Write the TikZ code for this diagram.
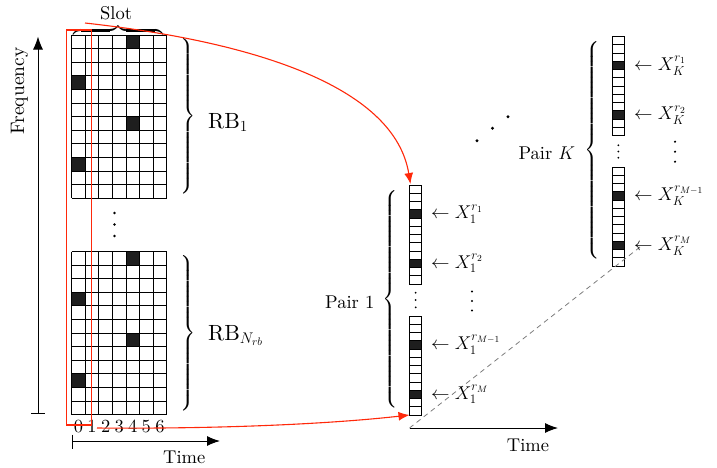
\documentclass[tikz,border=0pt]{standalone}
\usepackage{fix-cm}
\usepackage{fontspec}
\setmainfont{lmroman10-regular.otf}[ItalicFont=lmroman10-italic.otf,BoldFont=lmroman10-bold.otf]
\usepackage{amsmath}
\usetikzlibrary{arrows.meta}
\definecolor{redline}{RGB}{255,40,10}
\definecolor{cellfill}{RGB}{30,30,30}
\definecolor{dashgray}{RGB}{125,125,125}
\newcommand{\rbgrid}[2]{%
  \foreach \r/\c in {0/4,3/0,6/4,9/0}
    \fill[blackcell] ({#1+\c*13.57},{#2+\r*13.6}) rectangle ++(13.57,13.6);
  \foreach \i in {0,...,7} \draw[gridline] ({#1+\i*13.57},#2) -- ++(0,163.2);
  \foreach \j in {0,...,12} \draw[gridline] (#1,{#2+\j*13.6}) -- ++(95,0);
}
\newcommand{\paircolumn}[2]{%
  \foreach \r in {3,9} \fill[blackcell] (#1,{#2+\r*8.25}) rectangle ++(11.8,8.25);
  \foreach \j in {1,...,11} \draw[cellline] (#1,{#2+\j*8.25}) -- ++(11.8,0);
  \draw[gridline] (#1,#2) rectangle ++(11.8,99);
}
\newcommand{\dotcolumn}[4]{% x, y centre, spacing, radius
  \foreach \k in {-1,0,1} \fill ({#1},{#2+\k*#3}) circle (#4);
}
\begin{document}
\begin{tikzpicture}[x=1pt,y=-1pt,
  font=\fontsize{18.5}{22}\selectfont,
  gridline/.style={line width=0.85pt},
  cellline/.style={line width=0.65pt},
  blackcell/.style={fill=cellfill},
  axis/.style={line width=1pt,-{Latex[length=13pt,width=10pt]}},
  redarrow/.style={draw=redline,line width=1.1pt,-{Latex[length=11pt,width=9pt]}},
  lbl/.style={inner sep=0pt},
  bigtext/.style={inner sep=0pt,font=\fontsize{22}{26}\selectfont}
]
\useasboundingbox (0,0) rectangle (717,467);

% resource grids
\rbgrid{71.7}{35}
\rbgrid{71.7}{251.5}
\dotcolumn{114.5}{224.5}{11.5}{1.3}

% pair columns
\paircolumn{409.8}{185}
\paircolumn{409.8}{316}
\paircolumn{612.5}{36.5}
\paircolumn{612.5}{167}
\dotcolumn{415.7}{300}{7.3}{1.0}
\dotcolumn{618.4}{151.5}{6.2}{1.0}
\dotcolumn{472}{301}{9.5}{1.2}
\dotcolumn{675}{151.7}{10}{1.2}

% diagonal dots
\fill (477,140.7) circle (1.6);
\fill (492.5,128.3) circle (1.6);
\fill (508,116.7) circle (1.6);

% axes
\coordinate (fbot) at (38,413);
\coordinate (ftop) at (38,36.5);
\draw[axis] (fbot) -- (ftop);
\draw[line width=1pt] (31,413) -- (45,413);
\coordinate (t1a) at (72,441);
\coordinate (t1b) at (220,441);
\draw[axis] (t1a) -- (t1b);
\draw[line width=1pt] (72,434.5) -- (72,448.5);
\coordinate (t2a) at (409.5,428);
\coordinate (t2b) at (558,428);
\draw[axis] (t2a) -- (t2b);
\coordinate (dashend) at (640,247);
\draw[dashgray,line width=0.8pt,dash pattern=on 5pt off 4pt] (t2a) -- (dashend);

% braces
\node[lbl] (brace1) at (187.5,116.5) {$\left.\vcenter{\hbox{\rule{0pt}{157pt}}}\right\}$};
\node[lbl] (brace2) at (187.5,333) {$\left.\vcenter{\hbox{\rule{0pt}{160pt}}}\right\}$};
\node[lbl] (brace3) at (391,299) {$\left\{\vcenter{\hbox{\rule{0pt}{222pt}}}\right.$};
\node[lbl] (brace4) at (592.5,150) {$\left\{\vcenter{\hbox{\rule{0pt}{220pt}}}\right.$};
\node[lbl,anchor=south] (slotbrace) at (118.2,34.7) {$\overbrace{\hbox to 89.7pt{}}$};

% labels
\node[lbl,anchor=base west] (slot) at (100,19.3) {Slot};
\node[lbl,rotate=90,font=\fontsize{19.5}{23}\selectfont] (freq) at (19.5,91) {Frequency};
\node[lbl,anchor=base west] (time1) at (163,463.3) {Time};
\node[lbl,anchor=base west] (time2) at (506.7,451.7) {Time};
\node[bigtext,anchor=base west] (rb1) at (208,128.3) {RB$_1$};
\node[bigtext,anchor=base west] (rbn) at (208,340) {RB$_{N_{rb}}$};
\node[lbl,anchor=base west] (pair1) at (325,308.5) {Pair 1};
\node[lbl,anchor=base west] (pairk) at (518.3,159.3) {Pair $K$};
\foreach \i in {0,...,6}
  \node[lbl,anchor=base] (d\i) at ({71.7+(\i+0.5)*13.57},432.3) {\i};

\node[lbl,anchor=base west] (x1a) at (431,218.5) {$\leftarrow X_1^{r_1}$};
\node[lbl,anchor=base west] (x1b) at (431,268) {$\leftarrow X_1^{r_2}$};
\node[lbl,anchor=base west] (x1c) at (431,349.5) {$\leftarrow X_1^{r_{M-1}}$};
\node[lbl,anchor=base west] (x1d) at (431,399) {$\leftarrow X_1^{r_M}$};
\node[lbl,anchor=base west] (xka) at (634,70) {$\leftarrow X_K^{r_1}$};
\node[lbl,anchor=base west] (xkb) at (634,119.5) {$\leftarrow X_K^{r_2}$};
\node[lbl,anchor=base west] (xkc) at (634,200.5) {$\leftarrow X_K^{r_{M-1}}$};
\node[lbl,anchor=base west] (xkd) at (634,250) {$\leftarrow X_K^{r_M}$};

% red selection box and arrows
\coordinate (boxa) at (66.7,30);
\coordinate (boxb) at (91.3,425);
\draw[draw=redline,line width=1.1pt] (boxa) rectangle (boxb);
\coordinate (redstart1) at (85,23);
\coordinate (p1top) at (410.5,184);
\coordinate (redstart2) at (97,428);
\coordinate (p1bot) at (409.5,415);
\draw[redarrow] (redstart1) .. controls (265,43) and (395,90) .. (p1top);
\draw[redarrow] (redstart2) .. controls (220,429) and (330,424) .. (p1bot);
\end{tikzpicture}
\end{document}
